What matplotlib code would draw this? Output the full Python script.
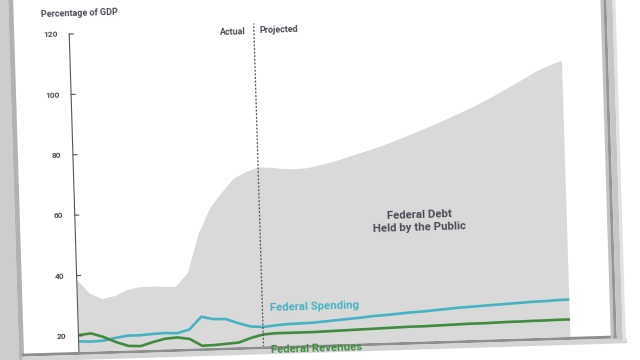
import matplotlib
matplotlib.use("Agg")
import matplotlib.pyplot as plt
from matplotlib.transforms import Affine2D
from matplotlib.patches import Polygon

# ---------------- data ----------------
years = list(range(1999, 2040))
debt = [38.5, 33.8, 32.0, 32.8, 34.6, 35.5, 35.6, 35.4, 35.3, 39.6, 52.5, 61.0,
        66.0, 70.5, 72.5,
        74.0, 73.7, 73.2, 73.0, 73.2, 74.0, 74.9, 76.0, 77.2, 78.4, 79.6, 81.0,
        82.5, 84.0, 85.6, 87.2, 88.9, 90.6, 92.4, 94.4, 96.5, 98.7, 100.9, 103.1,
        104.8, 106.2]
spending = [18.2, 18.0, 18.2, 19.0, 19.6, 19.6, 19.9, 20.1, 19.9, 21.0, 25.1, 24.2,
            24.1, 22.6, 21.4,
            21.1, 21.5, 21.8, 21.9, 22.0, 22.3, 22.6, 22.9, 23.2, 23.6, 23.8, 24.1,
            24.4, 24.6, 24.9, 25.2, 25.5, 25.7, 25.9, 26.1, 26.3, 26.5, 26.7, 26.8,
            27.0, 27.1]
revenues = [20.3, 20.7, 19.4, 17.6, 16.2, 16.0, 17.2, 18.2, 18.5, 17.9, 15.5, 15.6,
            15.9, 16.2, 17.6,
            18.6, 18.9, 18.9, 18.9, 18.9, 19.0, 19.1, 19.2, 19.3, 19.4, 19.5, 19.6,
            19.7, 19.7, 19.8, 19.9, 20.0, 20.1, 20.1, 20.2, 20.3, 20.3, 20.4, 20.4,
            20.5, 20.5]
y_ticks = [20, 40, 60, 80, 100, 120]
split_year = 2014
y_title = "Percentage of GDP"
label_actual = "Actual"
label_projected = "Projected"
label_debt = "Federal Debt\nHeld by the Public"
label_spending = "Federal Spending"
label_revenues = "Federal Revenues"

# ---------------- layout (page pixels, y down, before tilt) ----------------
W, H = 640, 360
X_FIRST, PX_PER_YEAR = 74.5, 12.28      # pixel of first year, pixels per year
Y20, PX_PER_UNIT = 336.0, 3.02           # pixel of value 20, pixels per unit
TILT = 1.75                              # degrees, page rotated counter-clockwise
PIVOT = (74, H - 190)

def dx(px):
    return years[0] + (px - X_FIRST) / PX_PER_YEAR

def dy(py):
    return 20 + (Y20 - py) / PX_PER_UNIT

FONT = ['Liberation Sans Narrow', 'Roboto', 'DejaVu Sans']
TXT = '#4b4b55'
TEAL = '#45b3c3'
GREEN = '#3f8c3f'
FILL = '#d9d9d9'

fig = plt.figure(figsize=(W / 100, H / 100), dpi=100)
fig.patch.set_facecolor('white')
ax = fig.add_axes([0, 0, 1, 1])
ax.set_xlim(dx(0), dx(W))
ax.set_ylim(dy(H), dy(0))
ax.axis('off')

rot = Affine2D().rotate_deg_around(PIVOT[0], PIVOT[1], TILT)
T = ax.transData + rot
img_tr = Affine2D().scale(1, -1).translate(0, H) + rot   # page pixels -> display

# page, shadows
PAGE_L, PAGE_R, PAGE_B = 19, 606, 352
def page_rect(x0, x1, y0, y1, color, z):
    p = Polygon([(x0, y0), (x1, y0), (x1, y1), (x0, y1)], closed=True,
                transform=img_tr, facecolor=color, edgecolor='none', zorder=z)
    fig.add_artist(p)
    return p

page_rect(-30, 14, -40, 420, '#cdcdcd', 0)
page_rect(14, PAGE_L, -40, 420, '#b2b2b2', 0)
page_rect(PAGE_L - 2, PAGE_R + 14, PAGE_B, PAGE_B + 3, '#8e8e8e', 0)
page_rect(PAGE_L - 2, PAGE_R + 16, PAGE_B + 3, PAGE_B + 8, '#d4d4d4', 0)
page_rect(PAGE_R, PAGE_R + 3, -40, PAGE_B + 3, '#c2c2c2', 0)
page_rect(PAGE_R + 3, PAGE_R + 6, -40, PAGE_B + 3, '#959595', 0)
page_rect(PAGE_R + 6, PAGE_R + 12, -40, PAGE_B + 4, '#c6c6c6', 0)
page_rect(PAGE_R + 12, PAGE_R + 15, -40, PAGE_B + 6, '#e2e2e2', 0)

clip = Polygon([(PAGE_L, -40), (PAGE_R, -40), (PAGE_R, PAGE_B), (PAGE_L, PAGE_B)],
               closed=True, transform=img_tr)

def clipit(artists):
    for a in artists:
        a.set_clip_on(True)
        a.set_clip_path(clip)

# debt area
coll = ax.fill_between(years, 0, debt, facecolor=FILL, edgecolor='none',
                       linewidth=0, transform=T, zorder=2)
clipit([coll])

# lines
clipit(ax.plot(years, spending, color=TEAL, lw=1.9, transform=T, zorder=4,
               solid_capstyle='butt'))
clipit(ax.plot(years, revenues, color=GREEN, lw=1.9, transform=T, zorder=4,
               solid_capstyle='butt'))

# y axis (drawn on the tilted page)
x_axis = dx(74)
clipit(ax.plot([x_axis, x_axis], [dy(H), y_ticks[-1]], color='#555555', lw=0.8,
               transform=T, zorder=5))
for v in y_ticks:
    clipit(ax.plot([x_axis, dx(78)], [v, v], color='#555555', lw=0.8,
                   transform=T, zorder=5))
    ax.text(dx(62), v, str(v), ha='right', va='center', fontsize=6,
            fontweight='bold', color=TXT, family=FONT, rotation=TILT,
            rotation_mode='anchor', transform=T, zorder=6)

ax.text(dx(46), dy(14), y_title, ha='left', va='center', fontsize=6.5,
        fontweight='bold', color=TXT, family=FONT, rotation=TILT,
        rotation_mode='anchor', transform=T)

# actual / projected divider
clipit(ax.plot([split_year, split_year], [dy(H), dy(29)], color='#555555', lw=0.9,
               linestyle=(0, (1.6, 1.3)), transform=T, zorder=5))
ax.text(dx(251), dy(37), label_actual, ha='right', va='center', fontsize=6.5,
        fontweight='bold', color=TXT, family=FONT, rotation=TILT,
        rotation_mode='anchor', transform=T)
ax.text(dx(264), dy(36), label_projected, ha='left', va='center', fontsize=6.5,
        fontweight='bold', color=TXT, family=FONT, rotation=TILT,
        rotation_mode='anchor', transform=T)

# series labels
ax.text(dx(418), dy(232), label_debt, ha='center', va='center', fontsize=8.2,
        fontweight='bold', color=TXT, family=FONT, rotation=TILT,
        rotation_mode='anchor', transform=T, linespacing=1.25, multialignment='center',
        zorder=6)
ax.text(dx(266), dy(314), label_spending, ha='left', va='center', fontsize=8.2,
        fontweight='bold', color=TEAL, family=FONT, rotation=TILT,
        rotation_mode='anchor', transform=T, zorder=6)
t = ax.text(dx(266), dy(356), label_revenues, ha='left', va='center', fontsize=8.2,
            fontweight='bold', color=GREEN, family=FONT, rotation=TILT,
            rotation_mode='anchor', transform=T, zorder=6)
clipit([t])

fig.savefig('out.png', dpi=100, facecolor='white')
